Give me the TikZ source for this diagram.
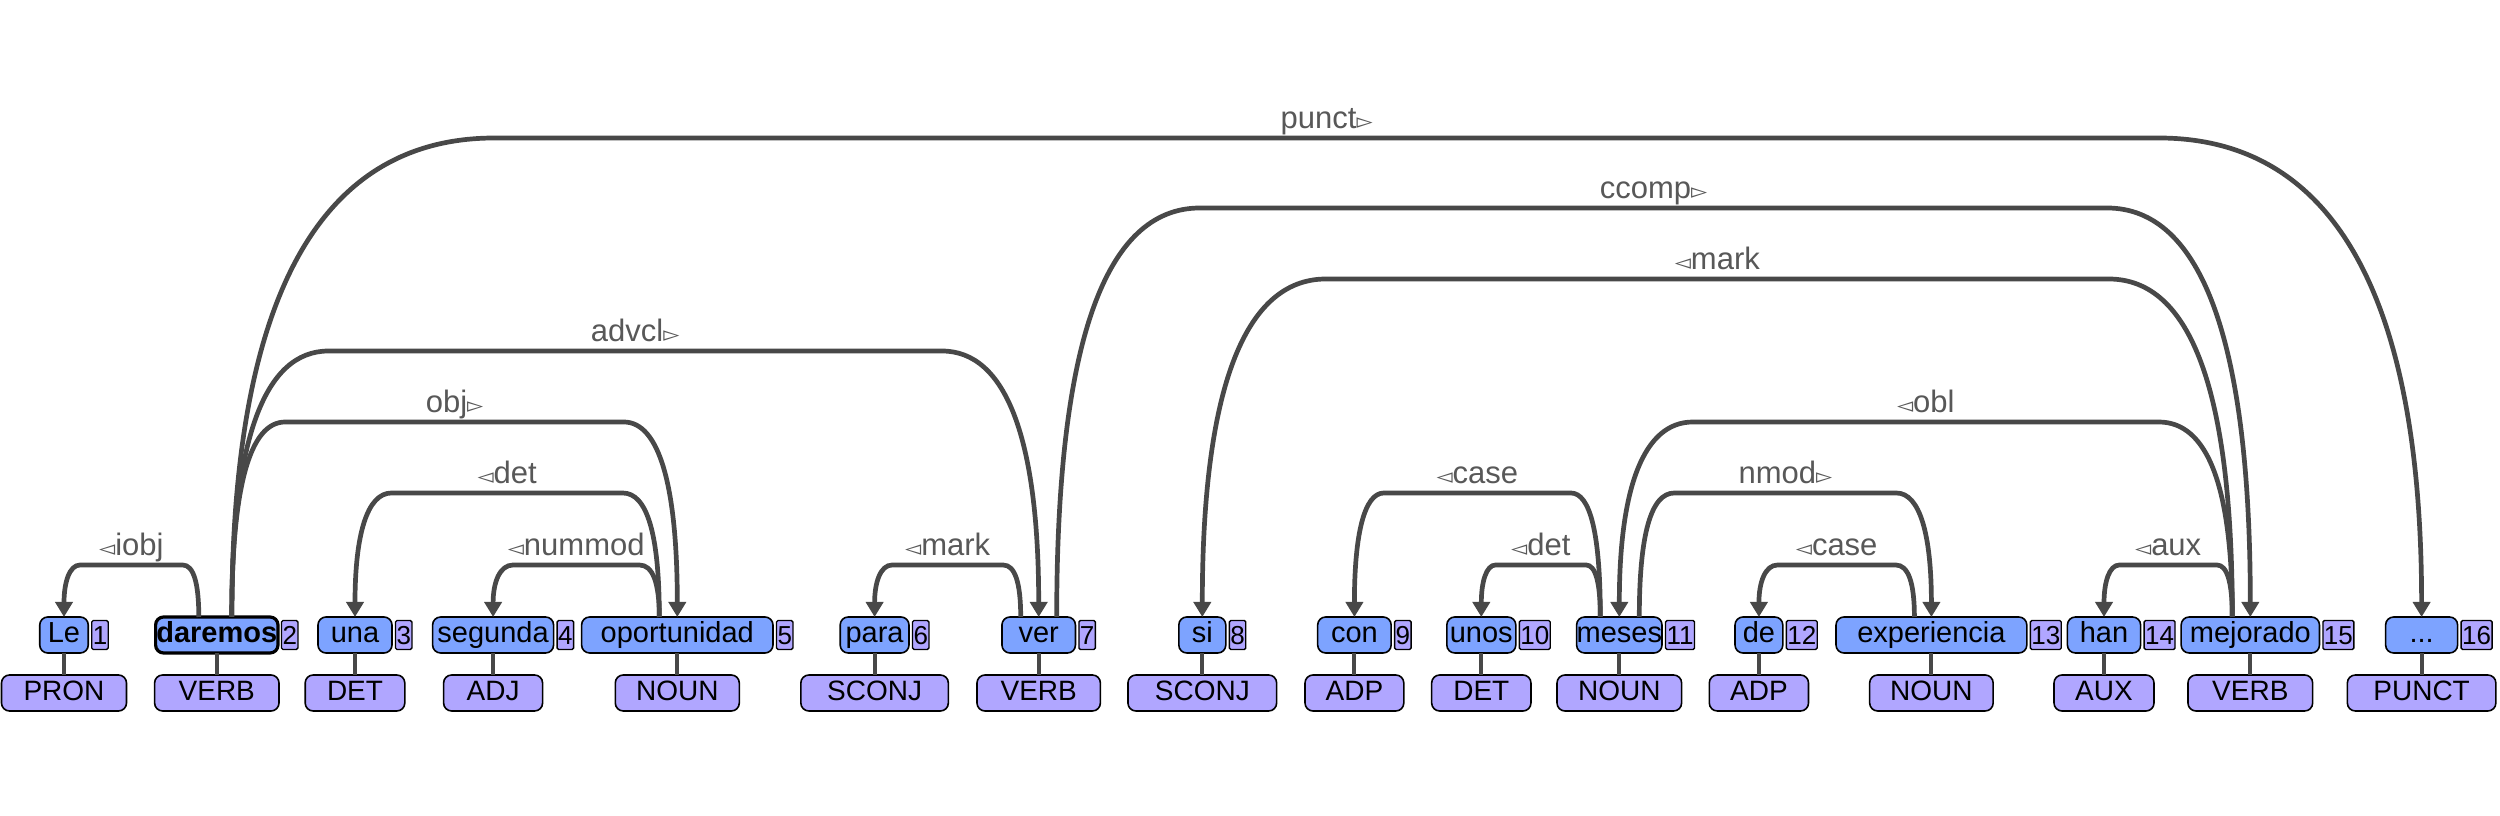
\documentclass[tikz,border=0pt]{standalone}
\usepackage{fontspec}
\setmainfont{Liberation Sans}
\newfontfamily\trifont{DejaVu Sans}
\usetikzlibrary{arrows.meta,calc,positioning}
\definecolor{wordblue}{RGB}{125,163,255}
\definecolor{poslav}{RGB}{176,166,255}
\definecolor{arcgray}{RGB}{72,72,72}
\definecolor{labgray}{RGB}{88,88,88}
\newcommand{\ltri}{{\trifont\fontsize{21}{21}\selectfont ◅}}
\newcommand{\rtri}{{\trifont\fontsize{21}{21}\selectfont ▻}}
\newcommand{\deparc}[5]{%
  \draw[arcline] let \p1=($(#1.north)+(#2,0pt)$), \p2=(#3.north), \n1={0.12*(\x2-\x1)} in
    (\p1) .. controls (\x1,{\y1+2/3*(#4-\y1)}) and ({\x1+\n1/3},#4) .. ({\x1+\n1},#4)
    -- ({\x2-\n1},#4) .. controls ({\x2-\n1/3},#4) and (\x2,{\y2+2/3*(#4-\y2)}) .. (\p2);
  \path let \p1=($(#1.north)+(#2,0pt)$), \p2=(#3.north) in
    node[deplabel] at ({(\x1+\x2)/2},{#4+9pt}) {#5};
}
\begin{document}
\begin{tikzpicture}[x=1pt,y=1pt,
  word/.style={draw=black, line width=1.6pt, fill=wordblue, rounded corners=8pt,
    minimum height=36pt, inner sep=0pt, outer sep=0pt, text height=21pt, text depth=5.6pt,
    font=\fontsize{29}{31}\selectfont},
  rootword/.style={word, line width=3.2pt, font=\fontsize{29}{31}\selectfont\bfseries},
  posbox/.style={draw=black, line width=1.6pt, fill=poslav, rounded corners=8pt,
    minimum height=36pt, inner sep=0pt, outer sep=0pt, text height=21pt, text depth=5.6pt,
    font=\fontsize{28}{30}\selectfont},
  num/.style={draw=black, line width=1.4pt, fill=poslav, rounded corners=1.5pt,
    minimum height=29pt, minimum width=15.5pt, inner sep=1pt, outer sep=0pt,
    text height=19pt, text depth=0pt, font=\fontsize{26}{28}\selectfont},
  stem/.style={draw=arcgray, line width=4pt},
  arcline/.style={draw=arcgray, line width=4.7pt, -{Triangle[width=17pt,length=15pt]}},
  deplabel/.style={anchor=base, text=labgray, inner sep=0pt, font=\fontsize{31}{33}\selectfont}
]
\fill[white] (0,0) rectangle (2500,816);
\useasboundingbox (0,0) rectangle (2500,816);

% words
\node[word, minimum width=48.5pt] (w1) at (64,181) {Le};
\node[rootword, minimum width=122.4pt] (w2) at (216.8,181) {daremos};
\node[word, minimum width=74pt] (w3) at (355,181) {una};
\node[word, minimum width=121pt] (w4) at (493.1,181) {segunda};
\node[word, minimum width=191.4pt] (w5) at (677.3,181) {oportunidad};
\node[word, minimum width=68.8pt] (w6) at (874.6,181) {para};
\node[word, minimum width=73.5pt] (w7) at (1038.7,181) {ver};
\node[word, minimum width=47pt] (w8) at (1202.3,181) {si};
\node[word, minimum width=73.5pt] (w9) at (1354.4,181) {con};
\node[word, minimum width=69pt] (w10) at (1481.3,181) {unos};
\node[word, minimum width=85.4pt] (w11) at (1619.3,181) {meses};
\node[word, minimum width=47.8pt] (w12) at (1758.9,181) {de};
\node[word, minimum width=190.8pt] (w13) at (1931.4,181) {experiencia};
\node[word, minimum width=73.2pt] (w14) at (2104,181) {han};
\node[word, minimum width=138.3pt] (w15) at (2250.3,181) {mejorado};
\node[word, minimum width=72pt] (w16) at (2421.6,181) {...};

% numbers
\foreach \i in {1,...,16} {
  \node[num, right=3.5pt of w\i] (n\i) {\i};
}

% POS tags
\node[posbox, minimum width=125pt] (p1) at (64,123) {PRON};
\node[posbox, minimum width=124.4pt] (p2) at (216.8,123) {VERB};
\node[posbox, minimum width=99.6pt] (p3) at (355,123) {DET};
\node[posbox, minimum width=99pt] (p4) at (493.1,123) {ADJ};
\node[posbox, minimum width=124pt] (p5) at (677.3,123) {NOUN};
\node[posbox, minimum width=147.5pt] (p6) at (874.6,123) {SCONJ};
\node[posbox, minimum width=123.4pt] (p7) at (1038.7,123) {VERB};
\node[posbox, minimum width=148.7pt] (p8) at (1202.3,123) {SCONJ};
\node[posbox, minimum width=98.8pt] (p9) at (1354.4,123) {ADP};
\node[posbox, minimum width=99.3pt] (p10) at (1481.3,123) {DET};
\node[posbox, minimum width=124.6pt] (p11) at (1619.3,123) {NOUN};
\node[posbox, minimum width=99.2pt] (p12) at (1758.9,123) {ADP};
\node[posbox, minimum width=123.5pt] (p13) at (1931.4,123) {NOUN};
\node[posbox, minimum width=100pt] (p14) at (2104,123) {AUX};
\node[posbox, minimum width=124.7pt] (p15) at (2250.3,123) {VERB};
\node[posbox, minimum width=148.5pt] (p16) at (2421.6,123) {PUNCT};

\foreach \i in {1,...,16} {
  \draw[stem] (w\i.south) -- (p\i.north);
}

% dependency arcs
\deparc{w2}{-18pt}{w1}{251pt}{\ltri iobj}
\deparc{w2}{15pt}{w5}{394pt}{obj\rtri}
\deparc{w2}{15pt}{w7}{465pt}{advcl\rtri}
\deparc{w2}{15pt}{w16}{678pt}{punct\rtri}
\deparc{w5}{-18pt}{w3}{323pt}{\ltri det}
\deparc{w5}{-18pt}{w4}{251pt}{\ltri nummod}
\deparc{w7}{-18pt}{w6}{251pt}{\ltri mark}
\deparc{w7}{18pt}{w15}{608pt}{ccomp\rtri}
\deparc{w15}{-18pt}{w8}{537pt}{\ltri mark}
\deparc{w11}{-19pt}{w9}{323pt}{\ltri case}
\deparc{w11}{-19pt}{w10}{251pt}{\ltri det}
\deparc{w15}{-18pt}{w11}{394pt}{\ltri obl}
\deparc{w11}{20pt}{w13}{323pt}{nmod\rtri}
\deparc{w13}{-17pt}{w12}{251pt}{\ltri case}
\deparc{w15}{-18pt}{w14}{251pt}{\ltri aux}
\end{tikzpicture}
\end{document}
